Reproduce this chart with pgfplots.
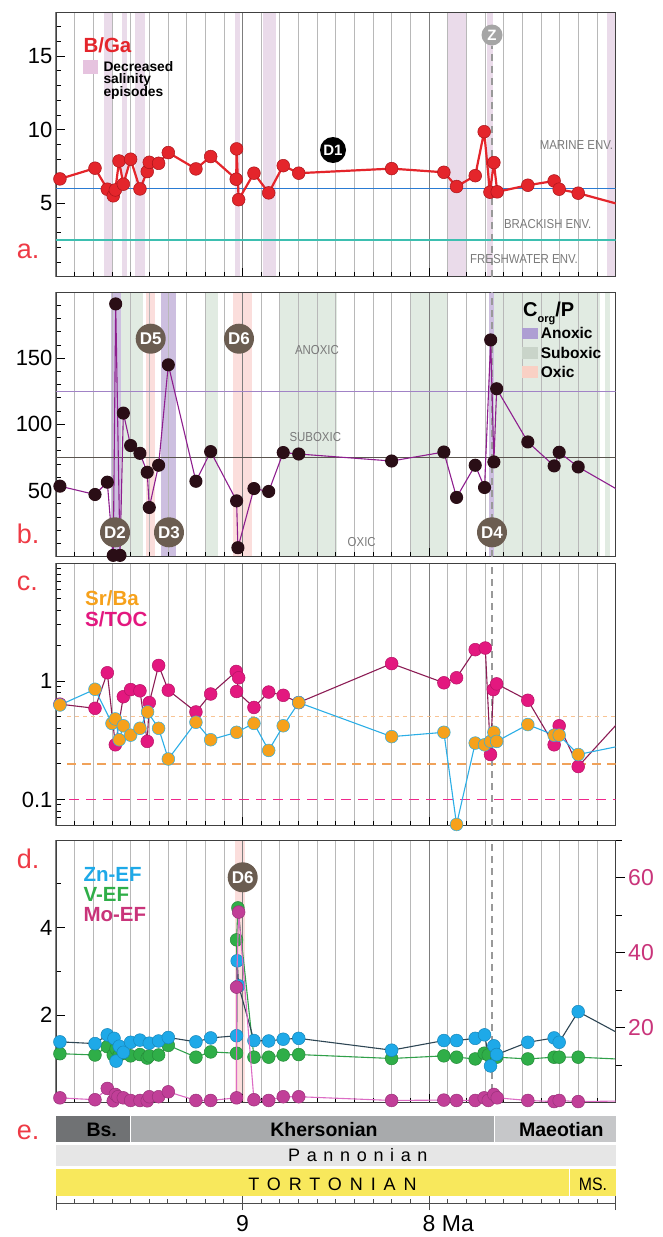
\documentclass[border=0pt]{standalone}
\usepackage{fontspec}
\setmainfont{Liberation Sans}
\newfontfamily\condsans{Liberation Sans}[FakeStretch=0.88]
\usepackage{pgfplots}
\pgfplotsset{compat=1.18}

\definecolor{bgaRed}{HTML}{E4252B}
\definecolor{bgaEdge}{HTML}{A8151B}
\definecolor{pinkBand}{HTML}{EADBEA}
\definecolor{pinkSq}{HTML}{E6C3DF}
\definecolor{lineBlue}{HTML}{2A7BD3}
\definecolor{lineTeal}{HTML}{3DBFB0}
\definecolor{gridMinor}{HTML}{B8B8B8}
\definecolor{gridMajor}{HTML}{7D7D7D}
\definecolor{anoxBand}{HTML}{CDBFE0}
\definecolor{suboxBand}{HTML}{E1EBE2}
\definecolor{oxBand}{HTML}{FBDEDC}
\definecolor{anoxSq}{HTML}{AE9ED3}
\definecolor{suboxSq}{HTML}{C9D4C9}
\definecolor{oxSq}{HTML}{F9D0C4}
\definecolor{cpMark}{HTML}{2A0E16}
\definecolor{cpLine}{HTML}{8E1E8E}
\definecolor{cpHa}{HTML}{A183C6}
\definecolor{cpHb}{HTML}{5A544E}
\definecolor{dBrown}{HTML}{6B5D51}
\definecolor{srOrange}{HTML}{F6A11B}
\definecolor{srLine}{HTML}{2BAEE6}
\definecolor{stocMag}{HTML}{E3187F}
\definecolor{stocLine}{HTML}{8C1D55}
\definecolor{halfDash}{HTML}{F8C393}
\definecolor{fifthDash}{HTML}{F0A25A}
\definecolor{magDash}{RGB}{240,40,140}
\definecolor{znBlue}{HTML}{1EA9E8}
\definecolor{znLine}{HTML}{2E4654}
\definecolor{vGreen}{HTML}{2FAE48}
\definecolor{vLine}{HTML}{30A04A}
\definecolor{moMag}{HTML}{C13F98}
\definecolor{moLine}{HTML}{DC6CC4}
\definecolor{moAxis}{HTML}{C9347A}
\definecolor{labelRed}{HTML}{EE3A45}
\definecolor{envGray}{HTML}{7A7A7A}
\definecolor{zGray}{HTML}{A5A5A5}
\definecolor{bsGray}{HTML}{707274}
\definecolor{khGray}{HTML}{A8AAAC}
\definecolor{maGray}{HTML}{C6C7C9}
\definecolor{paGray}{HTML}{E6E6E6}
\definecolor{toYellow}{HTML}{F8E85C}

\pgfplotsset{
  panel/.style={
    set layers,
    scale only axis, width=559.7pt,
    xmin=7, xmax=10, x dir=reverse,
    xtick={7,8,9,10}, minor x tick num=9, xticklabels={},
    xtick pos=bottom, ytick pos=left,
    xmajorgrids, xminorgrids,
    major x grid style={draw=gridMajor, line width=1.1pt},
    minor x grid style={draw=gridMinor, line width=0.8pt},
    tick align=inside,
    major tick length=9pt, minor tick length=5pt,
    every tick/.style={black, line width=0.8pt},
    axis line style={draw=black!75, line width=0.9pt},
    tick label style={font=\fontsize{22}{24}\selectfont},
    /pgf/number format/assume math mode=true,
  },
  band/.style={draw=none, fill=#1, on layer=axis background, forget plot},
  dot/.style 2 args={mark=*, mark size=6.4pt, mark options={solid, fill=#1, draw=#2, line width=0.5pt}},
}
\tikzset{
  zline/.style={draw=black!40, line width=1.4pt, dash pattern=on 7pt off 5pt},
  dcirc/.style={circle, fill=dBrown, text=white, inner sep=0pt, minimum size=30pt, font=\fontsize{17}{17}\selectfont\bfseries},
  envt/.style={text=envGray, inner sep=0pt, font=\condsans\fontsize{13}{13}\selectfont},
  plab/.style={text=labelRed, inner sep=0pt, anchor=base west, font=\fontsize{27}{27}\selectfont},
}

\begin{document}
\begin{tikzpicture}

%================ panel a =================
\begin{axis}[panel, at={(56pt,-276.7pt)}, anchor=south west, height=264.7pt,
  ymin=0, ymax=18, ytick={5,10,15},
  minor ytick={1,2,3,4,6,7,8,9,11,12,13,14,16,17}]
\addplot[band=pinkBand] coordinates {(9.743,18) (9.696,18)} \closedcycle;
\addplot[band=pinkBand] coordinates {(9.646,18) (9.618,18)} \closedcycle;
\addplot[band=pinkBand] coordinates {(9.575,18) (9.525,18)} \closedcycle;
\addplot[band=pinkBand] coordinates {(9.039,18) (9.014,18)} \closedcycle;
\addplot[band=pinkBand] coordinates {(8.889,18) (8.821,18)} \closedcycle;
\addplot[band=pinkBand] coordinates {(7.901,18) (7.804,18)} \closedcycle;
\addplot[band=pinkBand] coordinates {(7.692,18) (7.660,18)} \closedcycle;
\addplot[band=pinkBand] coordinates {(7.046,18) (7.000,18)} \closedcycle;
\addplot[color=lineBlue, line width=1.2pt, forget plot] coordinates {(10,6) (7,6)};
\addplot[color=lineTeal, line width=1.2pt, forget plot] coordinates {(10,2.5) (7,2.5)};
\draw[zline] (axis cs:7.663,0) -- (axis cs:7.663,15.7);
\addplot[color=bgaRed, line width=2.2pt, line join=round, dot={bgaRed}{bgaEdge}] table {
x y
9.979 6.65
9.791 7.38
9.725 5.95
9.693 5.50
9.682 5.90
9.662 7.87
9.639 6.29
9.600 7.99
9.550 5.97
9.511 7.15
9.500 7.78
9.450 7.71
9.398 8.44
9.250 7.33
9.171 8.17
9.034 6.63
9.032 8.69
9.021 5.24
8.939 7.04
8.860 5.70
8.782 7.55
8.699 7.04
8.201 7.35
7.921 7.10
7.853 6.13
7.753 6.87
7.705 9.86
7.674 5.75
7.653 7.76
7.635 5.77
7.471 6.22
7.330 6.51
7.303 5.95
7.201 5.68
6.900 4.64
};
\end{axis}

%================ panel b =================
\begin{axis}[panel, at={(56pt,-556.7pt)}, anchor=south west, height=264.7pt,
  ymin=0, ymax=200, ytick={50,100,150},
  minor ytick={10,20,30,40,60,70,80,90,110,120,130,140,160,170,180,190}]
\addplot[band=anoxBand] coordinates {(9.707,200) (9.653,200)} \closedcycle;
\addplot[band=anoxBand] coordinates {(9.437,200) (9.357,200)} \closedcycle;
\addplot[band=anoxBand] coordinates {(7.680,200) (7.651,200)} \closedcycle;
\addplot[band=suboxBand] coordinates {(9.653,200) (9.532,200)} \closedcycle;
\addplot[band=suboxBand] coordinates {(9.201,200) (9.133,200)} \closedcycle;
\addplot[band=suboxBand] coordinates {(8.800,200) (8.496,200)} \closedcycle;
\addplot[band=suboxBand] coordinates {(8.103,200) (7.898,200)} \closedcycle;
\addplot[band=suboxBand] coordinates {(7.651,200) (7.085,200)} \closedcycle;
\addplot[band=suboxBand] coordinates {(7.058,200) (7.031,200)} \closedcycle;
\addplot[band=oxBand] coordinates {(9.518,200) (9.469,200)} \closedcycle;
\addplot[band=oxBand] coordinates {(9.053,200) (8.951,200)} \closedcycle;
\addplot[color=cpHa, line width=1.1pt, forget plot] coordinates {(10,125) (7,125)};
\addplot[color=cpHb, line width=1.1pt, forget plot] coordinates {(10,75) (7,75)};
\draw[zline] (axis cs:7.663,0) -- (axis cs:7.663,200);
\addplot[color=cpLine, line width=1.1pt, line join=round, mark=*, mark size=6pt, mark options={solid, fill=cpMark, draw=cpMark}] table {
x y
9.979 53.3
9.791 47.0
9.725 56.3
9.693 1
9.680 191
9.657 1
9.639 108.5
9.600 84
9.550 78.1
9.511 63.8
9.500 37.2
9.450 69.1
9.398 145
9.250 57
9.171 79.4
9.032 42.2
9.025 6.8
8.939 51.5
8.860 49.3
8.782 78.7
8.699 77.6
8.201 72.3
7.921 79.1
7.853 44.8
7.753 69.1
7.703 52.3
7.670 163.8
7.653 71.6
7.638 126.9
7.471 86.7
7.330 68.6
7.303 78.9
7.201 67.8
6.900 43.4
};
\end{axis}

%================ panel c =================
\begin{axis}[panel, at={(56pt,-825.7pt)}, anchor=south west, height=262.7pt,
  ymode=log, ymin=0.06, ymax=10, ytick={0.1,1}, yticklabels={0.1,1},
  minor ytick={0.06,0.07,0.08,0.09,0.2,0.3,0.4,0.5,0.6,0.7,0.8,0.9,2,3,4,5,6,7,8,9}]
\addplot[color=halfDash, line width=1.3pt, dash pattern=on 4pt off 4pt, forget plot] coordinates {(9.94,0.5) (7,0.5)};
\addplot[color=fifthDash, line width=1.6pt, dash pattern=on 9pt off 6pt, forget plot] coordinates {(9.94,0.2) (7,0.2)};
\addplot[color=magDash, line width=1.6pt, dash pattern=on 10pt off 7pt, forget plot] coordinates {(9.93,0.1) (7,0.1)};
\draw[zline] (axis cs:7.663,0.06) -- (axis cs:7.663,10);
\addplot[color=stocLine, line width=1.1pt, line join=round, dot={stocMag}{stocMag!80!black}] table {
x y
9.979 0.64
9.791 0.59
9.725 1.18
9.682 0.29
9.639 0.74
9.600 0.85
9.550 0.83
9.511 0.31
9.500 0.66
9.450 1.36
9.398 0.84
9.250 0.55
9.171 0.78
9.034 1.21
9.021 1.07
9.032 0.82
8.939 0.60
8.860 0.81
8.782 0.76
8.699 0.66
8.201 1.41
7.921 0.97
7.853 1.07
7.753 1.85
7.699 1.91
7.671 0.24
7.656 0.85
7.638 0.95
7.471 0.69
7.330 0.29
7.303 0.42
7.201 0.19
6.900 0.63
};
\addplot[color=srLine, line width=1.1pt, line join=round, dot={srOrange}{srLine}] table {
x y
9.979 0.63
9.791 0.855
9.700 0.44
9.682 0.48
9.661 0.32
9.639 0.42
9.600 0.35
9.550 0.40
9.509 0.55
9.450 0.40
9.398 0.22
9.250 0.45
9.171 0.32
9.032 0.37
8.939 0.44
8.860 0.26
8.782 0.42
8.699 0.66
8.201 0.34
7.921 0.37
7.853 0.0615
7.753 0.30
7.703 0.29
7.671 0.31
7.653 0.37
7.638 0.31
7.471 0.43
7.330 0.35
7.303 0.35
7.201 0.24
6.900 0.30
};
\end{axis}

%================ panel d =================
\begin{axis}[panel, at={(56pt,-1102.7pt)}, anchor=south west, height=262.7pt,
  ymin=0, ymax=6, ytick={2,4}, minor ytick={1,3,5}]
\addplot[band=oxBand] coordinates {(9.039,6) (8.986,6)} \closedcycle;
\draw[zline] (axis cs:7.663,0) -- (axis cs:7.663,6);
\addplot[color=vLine, line width=1.1pt, line join=round, dot={vGreen}{vGreen!80!black}] table {
x y
9.979 1.12
9.791 1.09
9.725 1.28
9.693 1.09
9.678 1.23
9.661 1.09
9.639 1.13
9.600 1.07
9.550 1.10
9.511 1.02
9.500 1.07
9.450 1.09
9.398 1.31
9.250 1.04
9.171 1.16
9.032 1.13
9.032 3.72
9.025 4.45
8.939 1.04
8.860 1.04
8.782 1.09
8.699 1.10
8.201 1.01
7.921 1.07
7.853 1.04
7.753 1.00
7.705 1.13
7.683 1.09
7.638 1.04
7.471 1.00
7.330 1.04
7.303 1.04
7.201 1.04
6.900 0.98
};
\addplot[color=znLine, line width=1.1pt, line join=round, dot={znBlue}{znBlue!80!black}] table {
x y
9.979 1.39
9.791 1.35
9.725 1.55
9.689 1.47
9.678 0.95
9.661 1.29
9.639 1.15
9.600 1.38
9.550 1.43
9.500 1.36
9.450 1.41
9.398 1.49
9.250 1.39
9.171 1.48
9.032 1.53
9.029 3.24
9.021 2.67
8.939 1.42
8.860 1.41
8.782 1.45
8.699 1.47
8.201 1.20
7.921 1.42
7.853 1.42
7.753 1.47
7.703 1.55
7.671 0.84
7.653 1.30
7.638 1.10
7.471 1.38
7.330 1.48
7.303 1.38
7.201 2.08
6.900 1.39
};
\end{axis}
\begin{axis}[at={(56pt,-1102.7pt)}, anchor=south west, scale only axis,
  width=559.7pt, height=262.7pt, xmin=7, xmax=10, x dir=reverse,
  axis x line=none, axis y line*=right, ymin=0, ymax=70,
  ytick={20,40,60}, minor ytick={10,30,50,70},
  tick align=outside, major tick length=9pt, minor tick length=6pt,
  every tick/.style={black, line width=0.8pt},
  y axis line style={draw=black!75, line width=0.9pt},
  y tick label style={text=moAxis, font=\fontsize{23}{25}\selectfont},
  /pgf/number format/assume math mode=true]
\addplot[color=moLine, line width=1.1pt, line join=round, dot={moMag}{moMag!80!black}] table {
x y
9.979 1.3
9.791 0.8
9.725 3.8
9.693 0.5
9.682 2.2
9.668 1.6
9.639 1.3
9.600 0.6
9.550 0.6
9.511 0.5
9.500 1.6
9.450 1.6
9.398 2.9
9.250 0.6
9.171 0.6
9.032 1.3
9.032 30.8
9.021 50.8
8.939 0.8
8.860 0.6
8.782 1.6
8.699 1.6
8.201 0.6
7.921 0.7
7.853 0.6
7.753 0.6
7.705 1.3
7.683 0.6
7.653 2.2
7.635 1.3
7.471 0.6
7.330 0.3
7.303 0.6
7.201 0.3
6.900 0.5
};
\end{axis}

%================ panel e =================
\begin{axis}[at={(56pt,-1203pt)}, anchor=south west, scale only axis,
  width=559.7pt, height=87.3pt, xmin=7, xmax=10, x dir=reverse,
  ymin=0, ymax=87.3, axis x line*=bottom, axis y line=none,
  x axis line style={-, draw=black!70, line width=0.9pt},
  xtick={7,8,9,10}, xticklabels={{},{8\rlap{ Ma}},{9},{}},
  minor x tick num=9, tick align=outside,
  major tick length=14pt, minor tick length=4pt,
  every tick/.style={black!70, line width=0.9pt},
  every major x tick/.append style={yshift=7pt},
  every minor x tick/.append style={yshift=4pt},
  tick label style={font=\fontsize{23}{25}\selectfont},
  xticklabel style={yshift=5pt},
  clip=false]
\fill[bsGray] (axis cs:10,60.7) rectangle (axis cs:9.6,87.3);
\fill[khGray] (axis cs:9.6,60.7) rectangle (axis cs:7.65,87.3);
\fill[maGray] (axis cs:7.65,60.7) rectangle (axis cs:7,87.3);
\draw[white, line width=1pt] (axis cs:9.6,60.7) -- (axis cs:9.6,87.3);
\draw[white, line width=1pt] (axis cs:7.65,60.7) -- (axis cs:7.65,87.3);
\fill[paGray] (axis cs:10,37) rectangle (axis cs:7,58);
\fill[toYellow] (axis cs:10,7) rectangle (axis cs:7,34);
\draw[white, line width=1pt] (axis cs:7.246,7) -- (axis cs:7.246,34);
\node[anchor=base, inner sep=0pt, font=\fontsize{19.5}{19.5}\selectfont\bfseries] at (axis cs:9.755,66.3) {Bs.};
\node[anchor=base, inner sep=0pt, font=\fontsize{19.5}{19.5}\selectfont\bfseries] at (axis cs:8.564,66.3) {Khersonian};
\node[anchor=base, inner sep=0pt, font=\fontsize{19.5}{19.5}\selectfont\bfseries] at (axis cs:7.291,66.3) {Maeotian};
\node[anchor=base, inner sep=0pt, font=\fontsize{18}{18}\selectfont\addfontfeature{LetterSpace=37}] at (axis cs:8.382,41.3) {Pannonian};
\node[anchor=base, inner sep=0pt, font=\fontsize{18}{18}\selectfont\addfontfeature{LetterSpace=44}] at (axis cs:8.518,13) {TORTONIAN};
\node[anchor=base, inner sep=0pt, font=\condsans\fontsize{18}{18}\selectfont] at (axis cs:7.122,13) {MS.};
\end{axis}

%================ annotations =================
\node[plab] at (16.7pt,-258.3pt) {a.};
\node[plab] at (16.7pt,-543.3pt) {b.};
\node[plab] at (16.7pt,-590pt) {c.};
\node[plab] at (16.7pt,-868.3pt) {d.};
\node[plab] at (16.7pt,-1139pt) {e.};

\node[anchor=base west, inner sep=0pt, text=bgaRed, font=\fontsize{20.5}{21}\selectfont\bfseries] at (83.3pt,-52.5pt) {B/Ga};
\fill[pinkSq] (83.3pt,-60pt) rectangle (97.7pt,-74pt);
\node[anchor=base west, inner sep=0pt, font=\fontsize{13.8}{14}\selectfont\bfseries] at (103.3pt,-71.5pt) {Decreased};
\node[anchor=base west, inner sep=0pt, font=\fontsize{13.8}{14}\selectfont\bfseries] at (103.3pt,-83.8pt) {salinity};
\node[anchor=base west, inner sep=0pt, font=\fontsize{13.8}{14}\selectfont\bfseries] at (103.3pt,-96.5pt) {episodes};
\node[envt, anchor=base east] at (613.3pt,-149pt) {MARINE ENV.};
\node[envt, anchor=base] at (547.7pt,-228.3pt) {BRACKISH ENV.};
\node[envt, anchor=base] at (524pt,-263.3pt) {FRESHWATER ENV.};
\node[circle, fill=black, text=white, inner sep=0pt, minimum size=26pt, font=\fontsize{15}{15}\selectfont\bfseries] at (333pt,-150pt) {D1};
\node[circle, fill=zGray, text=white, inner sep=0pt, minimum size=21pt, font=\fontsize{15}{15}\selectfont\bfseries] at (492pt,-35pt) {Z};

\node[envt, anchor=base] at (317pt,-354pt) {ANOXIC};
\node[envt, anchor=base] at (315.3pt,-441.7pt) {SUBOXIC};
\node[envt, anchor=base] at (361.7pt,-546.7pt) {OXIC};
\node[anchor=base west, inner sep=0pt, font=\fontsize{20}{20}\selectfont\bfseries] at (523pt,-316.7pt) {C\raisebox{-0.3em}{\fontsize{11}{11}\selectfont org}/P};
\fill[anoxSq] (522.3pt,-327.7pt) rectangle (538.3pt,-339.3pt);
\fill[suboxSq] (522.3pt,-346.7pt) rectangle (538.3pt,-359.3pt);
\fill[oxSq] (522.3pt,-366pt) rectangle (538.3pt,-378.3pt);
\node[anchor=base west, inner sep=0pt, font=\fontsize{15.5}{16}\selectfont\bfseries] at (540.7pt,-338.5pt) {Anoxic};
\node[anchor=base west, inner sep=0pt, font=\fontsize{15.5}{16}\selectfont\bfseries] at (540.7pt,-358.3pt) {Suboxic};
\node[anchor=base west, inner sep=0pt, font=\fontsize{15.5}{16}\selectfont\bfseries] at (540.7pt,-377.3pt) {Oxic};
\node[dcirc] at (150.7pt,-338.7pt) {D5};
\node[dcirc] at (239pt,-338.7pt) {D6};
\node[dcirc] at (115pt,-532.3pt) {D2};
\node[dcirc] at (169pt,-532.3pt) {D3};
\node[dcirc] at (492pt,-532.3pt) {D4};

\node[anchor=base west, inner sep=0pt, text=srOrange, font=\fontsize{20.5}{21}\selectfont\bfseries] at (85pt,-605pt) {Sr/Ba};
\node[anchor=base west, inner sep=0pt, text=stocMag, font=\fontsize{20.5}{21}\selectfont\bfseries] at (85pt,-626.7pt) {S/TOC};

\node[anchor=base west, inner sep=0pt, text=znBlue, font=\fontsize{20.5}{21}\selectfont\bfseries] at (83.3pt,-881pt) {Zn-EF};
\node[anchor=base west, inner sep=0pt, text=vGreen, font=\fontsize{20.5}{21}\selectfont\bfseries] at (83.3pt,-901.7pt) {V-EF};
\node[anchor=base west, inner sep=0pt, text=moAxis, font=\fontsize{20.5}{21}\selectfont\bfseries] at (83.3pt,-921.7pt) {Mo-EF};
\node[dcirc] at (242.7pt,-877.3pt) {D6};

\pgfresetboundingbox
\useasboundingbox (0pt,0pt) rectangle (663pt,-1237pt);
\end{tikzpicture}
\end{document}
